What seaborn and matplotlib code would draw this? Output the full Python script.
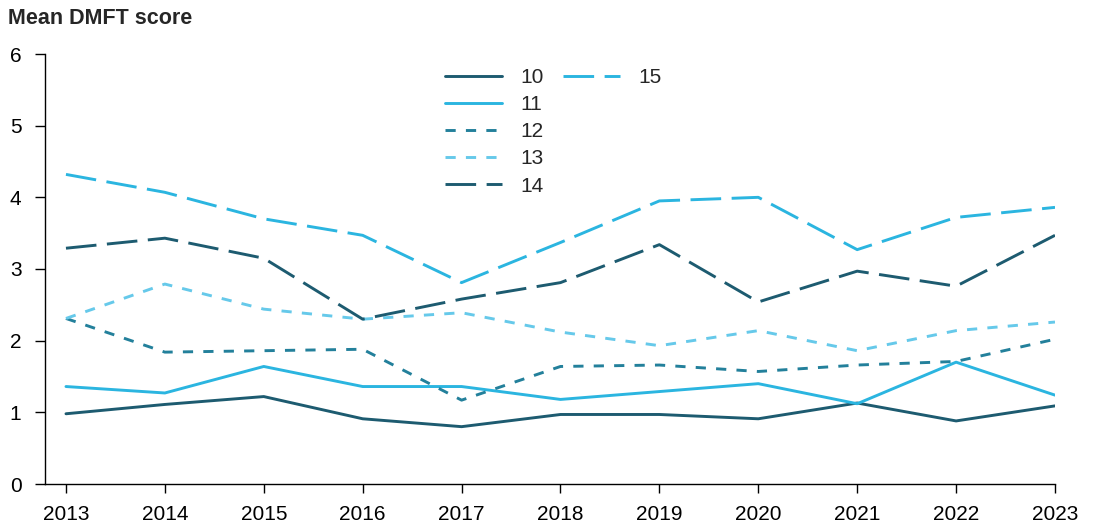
import matplotlib
matplotlib.use("Agg")
import matplotlib.pyplot as plt
from matplotlib.lines import Line2D
import pandas as pd
import seaborn as sns

years = list(range(2013, 2024))
age_10 = [0.98, 1.11, 1.22, 0.91, 0.80, 0.97, 0.97, 0.91, 1.13, 0.88, 1.09]
age_11 = [1.36, 1.27, 1.64, 1.36, 1.36, 1.18, 1.29, 1.40, 1.12, 1.70, 1.24]
age_12 = [2.31, 1.84, 1.86, 1.88, 1.17, 1.64, 1.66, 1.57, 1.66, 1.71, 2.02]
age_13 = [2.31, 2.79, 2.44, 2.30, 2.39, 2.12, 1.93, 2.14, 1.86, 2.14, 2.26]
age_14 = [3.29, 3.43, 3.15, 2.30, 2.58, 2.81, 3.34, 2.54, 2.97, 2.76, 3.47]
age_15 = [4.32, 4.07, 3.70, 3.47, 2.81, 3.37, 3.95, 4.00, 3.27, 3.72, 3.86]

series = {"10": age_10, "11": age_11, "12": age_12,
          "13": age_13, "14": age_14, "15": age_15}
df = pd.DataFrame([(y, age, v) for age, vals in series.items()
                   for y, v in zip(years, vals)],
                  columns=["year", "age", "dmft"])

palette = {"10": "#1d5b70", "11": "#2bb5e0", "12": "#23809b",
           "13": "#66c9ea", "14": "#1d5b70", "15": "#2bb5e0"}
dashes = {"10": "", "11": "", "12": (3.5, 3.5), "13": (3.5, 3.5),
          "14": (10.5, 3.6), "15": (10.5, 3.6)}

sns.set_style("ticks")
plt.rcParams["font.family"] = ["Liberation Sans", "DejaVu Sans"]

fig = plt.figure(figsize=(10.93, 5.26), dpi=100)
ax = fig.add_axes([45 / 1093, 1 - 484 / 526, 1010 / 1093, 430 / 526])

sns.lineplot(data=df, x="year", y="dmft", hue="age", style="age",
             palette=palette, dashes=dashes, linewidth=2.1, ax=ax)

ax.set_xlim(2012.788, 2023)
ax.set_ylim(0, 6)
ax.set_xticks(years)
ax.set_yticks(range(0, 7))
ax.set_xlabel("")
ax.set_ylabel("")
ax.tick_params(labelsize=15, width=1, colors="black")
ax.tick_params(axis="x", length=6.5, pad=8.5)
ax.tick_params(axis="y", length=7, pad=10)
for s in ["top", "right"]:
    ax.spines[s].set_visible(False)
for s in ["left", "bottom"]:
    ax.spines[s].set_color("black")
    ax.spines[s].set_linewidth(1)

# first column holds 10-14, second column only 15
handles, labels = ax.get_legend_handles_labels()
blank = Line2D([], [], linestyle="none")
handles = handles[:5] + [handles[5]] + [blank] * 4
labels = labels[:5] + [labels[5]] + [""] * 4
ax.legend(handles, labels, ncol=2, frameon=False, fontsize=15,
          handlelength=2.75, labelspacing=0.39, columnspacing=0.9,
          handletextpad=0.87, borderaxespad=0, borderpad=0,
          loc="upper left",
          bbox_to_anchor=(445 / 1093, 1 - 68 / 526),
          bbox_transform=fig.transFigure)

fig.text(8 / 1093, 1 - 18 / 526, "Mean DMFT score", fontsize=15.5,
         fontweight="bold", va="center", ha="left")

fig.savefig("out.png", dpi=100)
